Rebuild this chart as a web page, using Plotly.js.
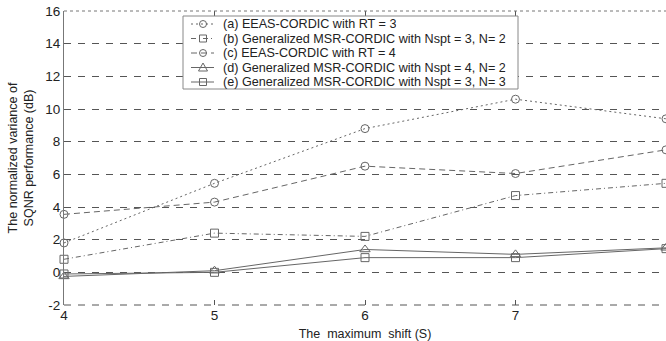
<!DOCTYPE html>
<html>
<head>
<meta charset="utf-8">
<script src="https://cdn.plot.ly/plotly-3.0.1.min.js"></script>
<style>html,body{margin:0;padding:0;background:#fff}#chart{width:666px;height:341px}</style>
</head>
<body>
<div id="chart"></div>
<script>
const shifts = [4, 5, 6, 7, 8];
const seriesNames = [
  "(a) EEAS-CORDIC with RT = 3",
  "(b) Generalized MSR-CORDIC with Nspt = 3, N= 2",
  "(c) EEAS-CORDIC with RT = 4",
  "(d) Generalized MSR-CORDIC with Nspt = 4, N= 2",
  "(e) Generalized MSR-CORDIC with Nspt = 3, N= 3"
];
const eeasRT3 = [1.8, 5.45, 8.8, 10.6, 9.4];
const msrN3N2 = [0.8, 2.4, 2.2, 4.7, 5.45];
const eeasRT4 = [3.55, 4.3, 6.5, 6.05, 7.5];
const msrN4N2 = [-0.25, 0.1, 1.4, 1.1, 1.5];
const msrN3N3 = [-0.1, 0.0, 0.9, 0.9, 1.45];
const yTicks = [-2, 0, 2, 4, 6, 8, 10, 12, 14, 16];
const xTicks = [4, 5, 6, 7, 8];

const seriesValues = [eeasRT3, msrN3N2, eeasRT4, msrN4N2, msrN3N3];
const styles = [
  {dash: '2px,3px', sym: 'circle-open', size: 8, shape: 'circle'},
  {dash: '5px,3px,1px,3px', sym: 'square-open', size: 8, shape: 'square'},
  {dash: '6px,4px', sym: 'circle-open', size: 8, shape: 'circle'},
  {dash: 'solid', sym: 'triangle-up-open', size: 9, shape: 'triangle'},
  {dash: 'solid', sym: 'square-open', size: 8, shape: 'square'}
];
const col = '#666';

// plot geometry (px) used to place the compact legend
const W = 666, H = 341, M = {l: 64, r: 0, t: 11, b: 36};
const pw = W - M.l - M.r, ph = H - M.t - M.b;
const px = v => (v - M.l) / pw;
const py = v => (H - M.b - v) / ph;

const data = seriesValues.map((vals, i) => {
  const s = styles[i];
  return {x: shifts, y: vals, name: seriesNames[i], mode: 'lines+markers',
    line: {color: col, width: 1, dash: s.dash},
    marker: {symbol: s.sym, size: s.size, color: col, line: {color: col, width: 1}},
    cliponaxis: false, showlegend: false};
});

// compact legend box (rows are tighter than Plotly's own legend allows)
const rowY = [24, 38.5, 53, 67.5, 82];
const shapes = [
  {type: 'line', xref: 'paper', yref: 'paper', x0: 0, x1: 1, y0: 1, y1: 1,
   line: {color: '#777', width: 1, dash: 'dot'}},
  {type: 'line', xref: 'paper', yref: 'paper', x0: 0, x1: 1, y0: 0, y1: 0,
   line: {color: '#555', width: 1, dash: '7px,7px'}},
  {type: 'rect', xref: 'paper', yref: 'paper', layer: 'above',
   x0: px(183), x1: px(518), y0: py(89), y1: py(16),
   fillcolor: '#fff', line: {color: '#888', width: 1}}
];
const annotations = [];
seriesNames.forEach((n, i) => {
  const s = styles[i];
  const yy = py(rowY[i]);
  shapes.push({type: 'line', xref: 'paper', yref: 'paper', layer: 'above',
    x0: px(191), x1: px(214), y0: yy, y1: yy, line: {color: col, width: 1, dash: s.dash}});
  const base = {xref: 'paper', yref: 'paper', layer: 'above', xsizemode: 'pixel', ysizemode: 'pixel',
    xanchor: px(203), yanchor: yy, line: {color: col, width: 1}, fillcolor: 'rgba(0,0,0,0)'};
  if (s.shape === 'circle') shapes.push(Object.assign({type: 'circle', x0: -3.5, x1: 3.5, y0: -3.5, y1: 3.5}, base));
  else if (s.shape === 'square') shapes.push(Object.assign({type: 'rect', x0: -3.5, x1: 3.5, y0: -3.5, y1: 3.5}, base));
  else shapes.push(Object.assign({type: 'path', path: 'M-4.5,-3.5 L4.5,-3.5 L0,4.5 Z'}, base));
  annotations.push({xref: 'paper', yref: 'paper', x: px(222), y: yy, xanchor: 'left', yanchor: 'middle',
    text: n, showarrow: false, height: 14, borderpad: 0, align: 'left',
    font: {size: 12.6, color: '#222'}});
});

const layout = {
  width: W, height: H,
  margin: M,
  paper_bgcolor: '#fff', plot_bgcolor: '#fff',
  font: {family: 'Liberation Sans, Arial, sans-serif', color: '#222', size: 13},
  showlegend: false,
  xaxis: {range: [4, 8], tickvals: xTicks, ticktext: xTicks.map(String),
    showgrid: false, zeroline: false, showline: false,
    ticks: 'inside', ticklen: 5, tickcolor: '#555', mirror: 'ticks',
    tickfont: {size: 13.5, color: '#222'},
    title: {text: 'The\u00a0\u00a0maximum\u00a0\u00a0shift (S)', font: {size: 12.5}, standoff: 8}},
  yaxis: {range: [-2, 16], tickvals: yTicks, ticktext: yTicks.map(String),
    showgrid: true, gridcolor: '#555', griddash: '7px,7px', gridwidth: 1,
    zeroline: false, showline: true, linecolor: '#777', linewidth: 1,
    ticks: '', tickfont: {size: 13.5, color: '#222'},
    title: {text: 'The normalized variance of<br>SQNR performance (dB)', font: {size: 12.5}, standoff: 8}},
  annotations: annotations,
  shapes: shapes
};
Plotly.newPlot('chart', data, layout, {displayModeBar: false, staticPlot: true});
</script>
</body>
</html>
